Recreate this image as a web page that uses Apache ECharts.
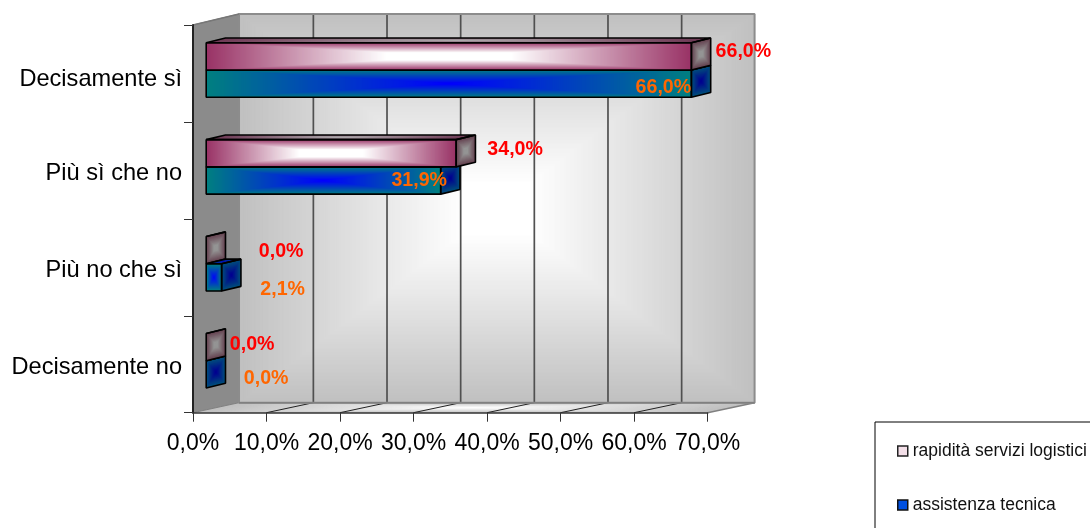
<!DOCTYPE html>
<html>
<head>
<meta charset="utf-8">
<style>html,body{margin:0;padding:0;background:#fff}#chart{width:1090px;height:528px;overflow:hidden}</style>
<script src="https://cdn.jsdelivr.net/npm/echarts@6/dist/echarts.min.js"></script>
</head>
<body>
<div id="chart"></div>
<script>
const categories = ['Decisamente sì', 'Più sì che no', 'Più no che sì', 'Decisamente no'];
const rapidita = [66.0, 34.0, 0.0, 0.0];
const assistenza = [66.0, 31.9, 2.1, 0.0];
const gridTicks = [0, 10, 20, 30, 40, 50, 60, 70];

// Hand-placed label nudges, measured from the end of each bar
const rapiditaLabelShift = [[52, -4.5], [59, -4], [75, 1.5], [46, -2.5]];
const assistenzaLabelShift = [[-28, 4], [-21.5, 0.5], [61, 12.5], [60, 4]];

// Depth of the pseudo-3D box and of the bars inside it
const BOX_DX = 46, BOX_DX_RIGHT = 47, BOX_DY = -10;
const BAR_X = 13.2, BAR_Y = -3.5, BAR_DX = 19.3, BAR_DY = -4.7, BAR_SHARE = 0.281;

function hex(c) {
  return [1, 3, 5].map(i => parseInt(c.substr(i, 2), 16));
}
function mix(a, b, t) {
  const p = hex(a), q = hex(b);
  return 'rgb(' + p.map((v, i) => Math.round(v + (q[i] - v) * t)).join(',') + ')';
}

// Concentric polygons shrinking to the centre give a "from centre" gradient fill;
// a gain above 1 makes the centre colour plateau before the middle is reached
function shaded(points, edge, centre, steps, z2, gain) {
  const cx = points.reduce((s, p) => s + p[0], 0) / points.length;
  const cy = points.reduce((s, p) => s + p[1], 0) / points.length;
  const out = [];
  for (let i = 0; i < steps; i++) {
    const t = i / (steps - 1);
    const k = 1 - t;
    out.push({
      type: 'polygon', silent: true, z2: z2,
      shape: { points: points.map(p => [cx + (p[0] - cx) * k, cy + (p[1] - cy) * k]) },
      style: { fill: mix(edge, centre, Math.min(1, t * (gain || 1))) }
    });
  }
  return out;
}
function outline(points, z2, color, width) {
  return {
    type: 'polygon', silent: true, z2: z2,
    shape: { points: points },
    style: { fill: 'none', stroke: color || '#000', lineWidth: width || 1.6, lineJoin: 'bevel' }
  };
}

function renderBox(params, api) {
  const g = params.coordSys;
  const x0 = g.x, x1 = g.x + g.width, y0 = g.y, y1 = g.y + g.height;
  const backLeft = x0 + BOX_DX, backRight = x1 + BOX_DX_RIGHT;
  // The back wall is a touch wider than the front axis, so map ticks across to it
  const toBack = x => backLeft + (x - x0) * (backRight - backLeft) / g.width + 0.7;
  const kids = [];
  const wall = [[backLeft, y0 + BOX_DY - 1], [backRight, y0 + BOX_DY - 1], [backRight, y1 + BOX_DY], [backLeft, y1 + BOX_DY]];
  const floor = [[x0, y1], [backLeft, y1 + BOX_DY], [backRight, y1 + BOX_DY], [x1, y1]];
  const side = [[x0, y0], [backLeft, y0 + BOX_DY - 1], [backLeft, y1 + BOX_DY], [x0, y1]];
  kids.push(...shaded(wall, '#c0c0c0', '#ffffff', 120, 1, 1.15));
  kids.push(...shaded(floor, '#c0c0c0', '#ffffff', 60, 1));
  kids.push({ type: 'polygon', silent: true, z2: 1, shape: { points: side }, style: { fill: '#8b8b8b', stroke: '#808080', lineWidth: 1 } });
  gridTicks.forEach((v, i) => {
    const x = api.coord([v, 0])[0];
    const last = i === gridTicks.length - 1;
    if (i > 0 && !last) {
      kids.push({ type: 'line', silent: true, z2: 2, shape: { x1: toBack(x), y1: y0 + BOX_DY, x2: toBack(x), y2: y1 + BOX_DY }, style: { stroke: '#505050', lineWidth: 1.7 } });
    }
    if (i > 0) {
      kids.push({ type: 'line', silent: true, z2: 2, shape: { x1: x, y1: y1, x2: last ? backRight : toBack(x), y2: y1 + BOX_DY }, style: { stroke: last ? '#808080' : '#222222', lineWidth: last ? 1.5 : 1 } });
    }
  });
  kids.push(outline(wall, 3, '#8c8c8c', 2));
  kids.push({ type: 'line', silent: true, z2: 3, shape: { x1: x0, y1: y0, x2: backLeft, y2: y0 + BOX_DY - 1 }, style: { stroke: '#777777', lineWidth: 1.5 } });
  kids.push({ type: 'line', silent: true, z2: 3, shape: { x1: backLeft, y1: y1 + BOX_DY, x2: backRight, y2: y1 + BOX_DY }, style: { stroke: '#808080', lineWidth: 1.5 } });
  return { type: 'group', children: kids };
}

// One bar: front, top and end faces. `slot` selects the upper or lower bar of a category.
function barRenderer(slot, palette, labelShift, labelColor, others) {
  return function (params, api) {
    const value = api.value(0);
    const idx = api.value(1);
    const band = api.coord([0, idx]);
    const h = api.size([0, 1])[1] * BAR_SHARE;
    const left = band[0] + BAR_X;
    const right = api.coord([value, idx])[0] + BAR_X;
    const mid = band[1] + BAR_Y;
    const top = mid + (slot === 0 ? -h : 0);
    const bottom = top + h;
    // The lower bar is only painted above the upper one where it sticks out past it
    const z = slot === 0 ? 20 : (value > others[idx] ? 30 : 10);
    const front = [[left, top], [right, top], [right, bottom], [left, bottom]];
    const lid = [[left, top], [left + BAR_DX, top + BAR_DY], [right + BAR_DX, top + BAR_DY], [right, top]];
    const end = [[right, top], [right + BAR_DX, top + BAR_DY], [right + BAR_DX, bottom + BAR_DY], [right, bottom]];
    const kids = [];
    const span = right - left;
    if (span > 1) {
      kids.push(...shaded(front, palette.edge, palette.centre, Math.max(14, Math.round(span / 2)), z, palette.gain));
      kids.push(outline(front, z + 1));
    }
    kids.push(...shaded(lid, palette.lidEdge, palette.lidCentre, Math.max(10, Math.round(span / 2)), z));
    kids.push(outline(lid, z + 1));
    kids.push(...shaded(end, palette.endEdge, palette.endCentre, 14, z, palette.endGain));
    kids.push(outline(end, z + 1));
    const shift = labelShift[idx];
    const barMid = (top + bottom) / 2;
    kids.push({
      type: 'text', silent: true, z2: 50,
      x: right + shift[0], y: barMid + shift[1],
      style: {
        text: value.toFixed(1).replace('.', ',') + '%',
        fill: labelColor,
        font: 'bold 19.6px "Liberation Sans", Arial, sans-serif',
        align: 'center', verticalAlign: 'middle'
      }
    });
    return { type: 'group', children: kids };
  };
}

const pinkFaces = {
  edge: '#993366', centre: '#ffffff', gain: 1.35,
  lidEdge: '#6f3a56', lidCentre: '#b0aeb0',
  endEdge: '#64414f', endCentre: '#949494', endGain: 1.3
};
const blueFaces = {
  edge: '#008080', centre: '#0000ff',
  lidEdge: '#00507a', lidCentre: '#0000cc',
  endEdge: '#00507a', endCentre: '#000090', endGain: 1.1
};

const labelFont = '"Liberation Sans", Arial, sans-serif';

const chart = echarts.init(document.getElementById('chart'));
chart.setOption({
  animation: false,
  backgroundColor: '#ffffff',
  grid: { left: 193, top: 25, width: 514.6, height: 387.7, containLabel: false },
  xAxis: {
    type: 'value', min: 0, max: 70, interval: 10,
    splitLine: { show: false },
    axisLine: { show: true, lineStyle: { color: '#333333', width: 1.5 } },
    axisTick: { show: true, length: 9, lineStyle: { color: '#333333', width: 1 } },
    axisLabel: {
      margin: 19, color: '#000', fontSize: 23, fontFamily: labelFont,
      formatter: v => v.toFixed(1).replace('.', ',') + '%',
      showMinLabel: true, showMaxLabel: true
    }
  },
  yAxis: {
    type: 'category', inverse: true, data: categories,
    axisLine: { show: true, lineStyle: { color: '#222222', width: 2 } },
    axisTick: { show: true, length: 9, lineStyle: { color: '#333333', width: 1 } },
    axisLabel: {
      margin: 11, color: '#000', fontSize: 23.6, fontFamily: labelFont,
      // The top category label sits a little lower than the others
      formatter: (v, i) => '{' + (i === 0 ? 'first' : 'rest') + '|' + v + '}',
      rich: {
        first: { fontSize: 23.6, fontFamily: labelFont, color: '#000', padding: [12, 0, 0, 0] },
        rest: { fontSize: 23.6, fontFamily: labelFont, color: '#000', padding: [6, 0, 0, 0] }
      }
    }
  },
  legend: {
    orient: 'vertical', left: 875, top: 422, height: 160,
    padding: [20, 40, 30, 22],
    borderColor: '#000', borderWidth: 1,
    itemWidth: 10, itemHeight: 10, itemGap: 36,
    textStyle: { color: '#111', fontSize: 17.5, fontFamily: labelFont },
    data: [
      { name: 'rapidità servizi logistici', icon: 'rect',
        itemStyle: { color: '#f3dfe8', borderColor: '#222', borderWidth: 1.5 } },
      { name: 'assistenza tecnica', icon: 'rect',
        itemStyle: { color: '#0050e0', borderColor: '#111', borderWidth: 1.5 } }
    ]
  },
  series: [
    { type: 'custom', name: 'box', z: -1, silent: true, coordinateSystem: 'cartesian2d',
      renderItem: renderBox, data: [[0, 0]], encode: { x: 0, y: 1 } },
    { type: 'custom', name: 'rapidità servizi logistici', z: 3, silent: true, coordinateSystem: 'cartesian2d',
      renderItem: barRenderer(0, pinkFaces, rapiditaLabelShift, '#ff0000', assistenza),
      data: rapidita.map((v, i) => [v, i]), encode: { x: 0, y: 1 } },
    { type: 'custom', name: 'assistenza tecnica', z: 3, silent: true, coordinateSystem: 'cartesian2d',
      renderItem: barRenderer(1, blueFaces, assistenzaLabelShift, '#ff6600', rapidita),
      data: assistenza.map((v, i) => [v, i]), encode: { x: 0, y: 1 } }
  ]
});
</script>
</body>
</html>
